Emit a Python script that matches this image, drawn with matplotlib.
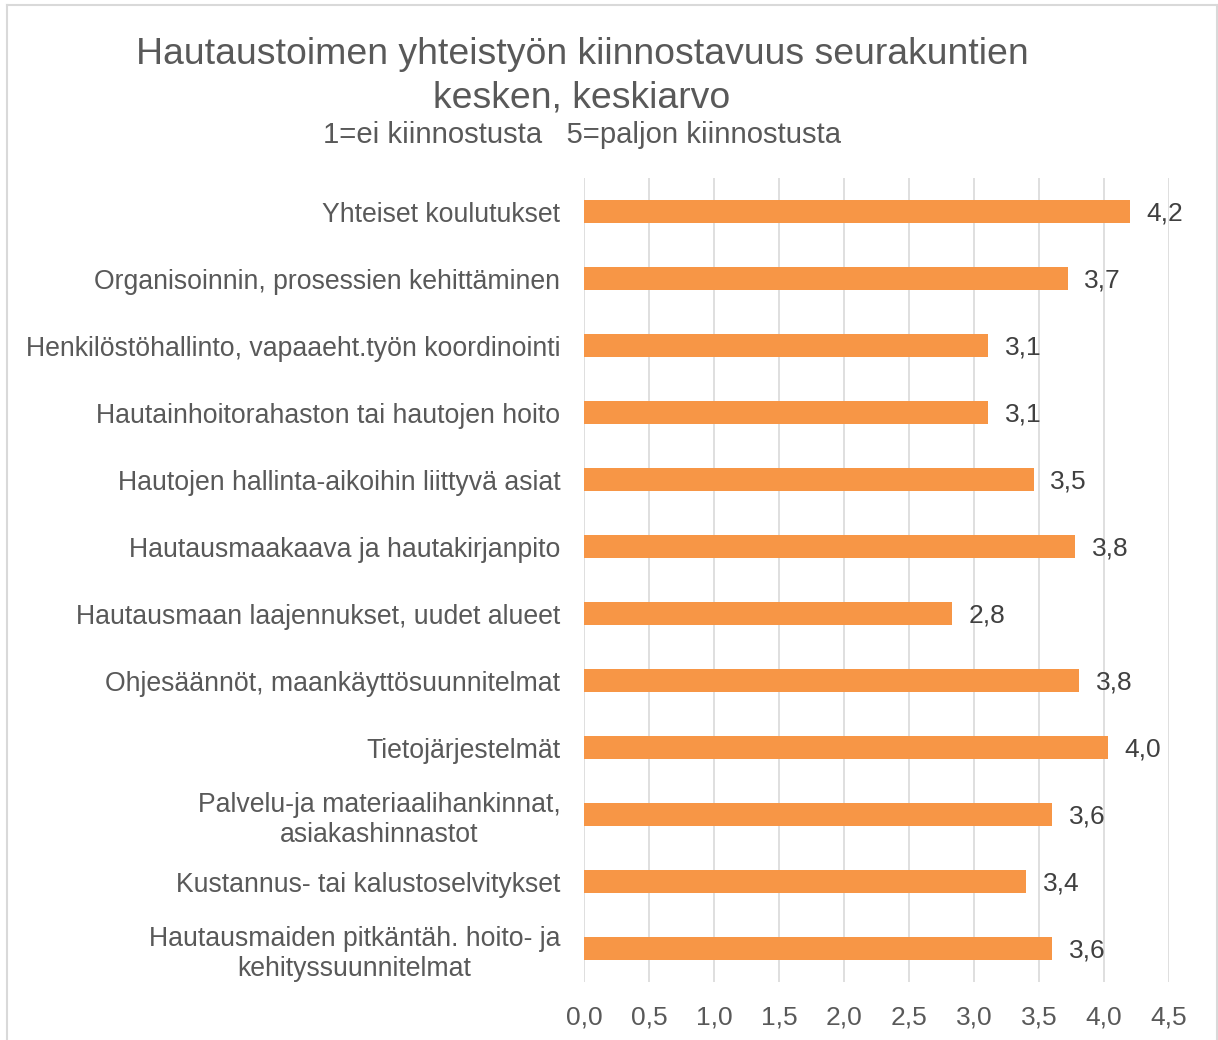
import matplotlib
matplotlib.use("Agg")
import matplotlib.pyplot as plt
from matplotlib.lines import Line2D

categories = [
    "Yhteiset koulutukset",
    "Organisoinnin, prosessien kehittäminen",
    "Henkilöstöhallinto, vapaaeht.työn koordinointi",
    "Hautainhoitorahaston tai hautojen hoito",
    "Hautojen hallinta-aikoihin liittyvä asiat",
    "Hautausmaakaava ja hautakirjanpito",
    "Hautausmaan laajennukset, uudet alueet",
    "Ohjesäännöt, maankäyttösuunnitelmat",
    "Tietojärjestelmät",
    "Palvelu-ja materiaalihankinnat,\nasiakashinnastot",
    "Kustannus- tai kalustoselvitykset",
    "Hautausmaiden pitkäntäh. hoito- ja\nkehityssuunnitelmat",
]
values = [4.2, 3.72, 3.11, 3.11, 3.46, 3.78, 2.83, 3.81, 4.03, 3.6, 3.4, 3.6]
xticks = [0.0, 0.5, 1.0, 1.5, 2.0, 2.5, 3.0, 3.5, 4.0, 4.5]

title1 = "Hautaustoimen yhteistyön kiinnostavuus seurakuntien"
title2 = "kesken, keskiarvo"
subtitle = "1=ei kiinnostusta   5=paljon kiinnostusta"

plt.rcParams['font.family'] = ['Liberation Sans', 'DejaVu Sans']
TXT = "#595959"
W, H = 1218, 1040
fig = plt.figure(figsize=(W / 100, H / 100), dpi=100)
ax = fig.add_axes([584 / W, 1 - 982 / H, (1169 - 584) / W, (982 - 178) / H])

y = list(range(len(categories)))
ax.barh(y, values, height=0.35, color="#F79646", zorder=3)
ax.set_ylim(len(categories) - 0.5, -0.5)
ax.set_xlim(0, 4.5)
ax.set_yticks(y)
ax.set_yticklabels(categories, fontsize=19.2, color=TXT, multialignment='center')
ax.set_xticks(xticks)
ax.set_xticklabels([f"{t:.1f}".replace('.', ',') for t in xticks], fontsize=19, color=TXT)
ax.tick_params(axis='both', length=0)
ax.tick_params(axis='y', pad=17)
ax.tick_params(axis='x', pad=17)
for s in ax.spines.values():
    s.set_visible(False)
ax.grid(axis='x', color="#D9D9D9", linewidth=1.2, zorder=0)
ax.set_axisbelow(True)

for yi, v in zip(y, values):
    ax.annotate(f"{v:.1f}".replace('.', ','), (v, yi), xytext=(12, -1.5),
                textcoords='offset points', va='center', ha='left',
                fontsize=19, color="#404040")

cx = 582 / W
fig.text(cx, 1 - 64 / H, title1, ha='center', va='baseline', fontsize=26.9, color=TXT)
fig.text(cx, 1 - 108 / H, title2, ha='center', va='baseline', fontsize=26.9, color=TXT)
fig.text(cx, 1 - 143 / H, subtitle, ha='center', va='baseline', fontsize=21.1, color=TXT)

bc = "#D9D9D9"
fig.add_artist(Line2D([7 / W, 7 / W], [0, 1 - 5 / H], color=bc, linewidth=1.5, transform=fig.transFigure))
fig.add_artist(Line2D([7 / W, 1216.5 / W], [1 - 5 / H, 1 - 5 / H], color=bc, linewidth=1.5, transform=fig.transFigure))
fig.add_artist(Line2D([1216.5 / W, 1216.5 / W], [0, 1 - 5 / H], color=bc, linewidth=1.5, transform=fig.transFigure))

fig.savefig("out.png", dpi=100)
